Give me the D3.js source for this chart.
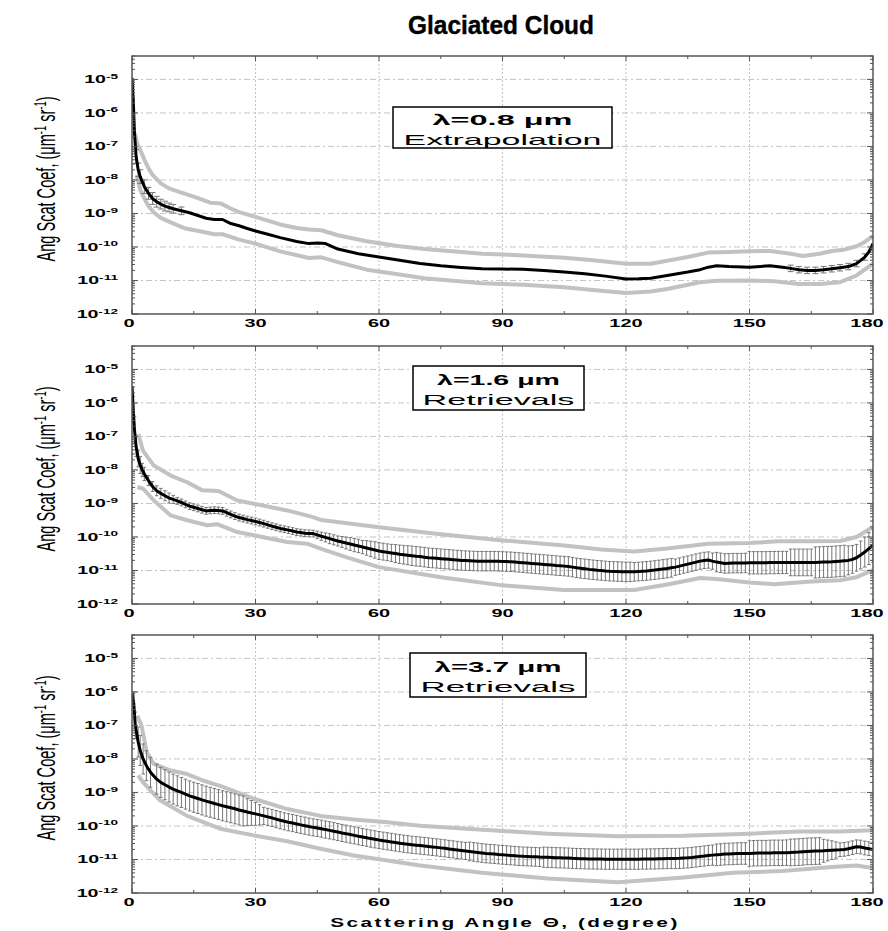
<!DOCTYPE html>
<html><head><meta charset="utf-8">
<script src="https://cdn.jsdelivr.net/npm/d3@7"></script>
<style>body{margin:0;background:#fff}svg{display:block}</style>
</head><body><svg id="c" width="888" height="931"></svg>
<script>
// ---------------- DATA ----------------
const chartTitle = "Glaciated Cloud";
const xTicks = [0, 30, 60, 90, 120, 150, 180];
const xMinorTicks = [15, 45, 75, 105, 135, 165];
const yDecades = [-12, -11, -10, -9, -8, -7, -6, -5];
const yLabelParts = ["Ang Scat Coef, (\u03bcm", "-1", " sr", "-1", ")"];
const xLabel = "Scattering Angle \u0398, (degree)";
const legendLine1 = ["\u03bb=0.8 \u03bcm", "\u03bb=1.6 \u03bcm", "\u03bb=3.7 \u03bcm"];
const legendLine2 = ["Extrapolation", "Retrievals", "Retrievals"];

// Panel 1 (0.8 um)
const p1Angle = [0,0.3,0.6,1,1.5,2,3,4,5,6,7,8,9,10,12,14,16,18,20,22,24,26,28,30,33,36,40,43,45,47,50,55,60,65,70,75,80,85,90,95,100,105,110,115,120,123,126,130,135,138,140,142,145,150,155,158,160,162,164,166,168,170,172,174,176,178,179,180];
const p1Mean = [1.12e-5,2.51e-6,2.51e-7,5.0e-8,2.0e-8,1.26e-8,6.3e-9,4.0e-9,2.8e-9,2.24e-9,1.9e-9,1.66e-9,1.51e-9,1.38e-9,1.2e-9,1.05e-9,8.7e-10,7.2e-10,6.6e-10,6.6e-10,5.0e-10,4.3e-10,3.55e-10,3.0e-10,2.4e-10,1.9e-10,1.45e-10,1.26e-10,1.32e-10,1.26e-10,8.7e-11,6.3e-11,5.0e-11,4.0e-11,3.2e-11,2.75e-11,2.45e-11,2.24e-11,2.2e-11,2.15e-11,2.0e-11,1.78e-11,1.58e-11,1.35e-11,1.1e-11,1.12e-11,1.17e-11,1.41e-11,1.78e-11,2.1e-11,2.5e-11,2.75e-11,2.6e-11,2.5e-11,2.75e-11,2.5e-11,2.3e-11,2.1e-11,2.0e-11,2.0e-11,2.1e-11,2.24e-11,2.4e-11,2.6e-11,3.2e-11,5.0e-11,7.1e-11,1.26e-10];
const p1ErrAngle = [1,1.5,2,3,4,5,6,7,8,9,10,12,160,162,164,166,168,170,172,174,176,178];
const p1ErrFactor = [1.6,1.6,1.6,1.6,1.5,1.5,1.45,1.4,1.4,1.35,1.35,1.3,1.25,1.25,1.25,1.25,1.25,1.25,1.25,1.25,1.25,1.25];
const p1UpAngle = [0.7,1.2,2,3,4,5,7,9,12,15,19,21.5,24,26,30,36,40,43,46,50,57,65,71,80,85,95,105,112,120,126,130,135,140,145,150,155,160,163,167,170,173,176,178,180];
const p1Up = [2.5e-7,1.26e-7,7.9e-8,4.0e-8,2.24e-8,1.41e-8,7.9e-9,5.6e-9,4.2e-9,3.16e-9,2.1e-9,2.0e-9,1.41e-9,1.1e-9,7.9e-10,4.7e-10,3.7e-10,3.3e-10,3.16e-10,2.24e-10,1.48e-10,1.05e-10,8.7e-11,7.1e-11,6.3e-11,5.6e-11,4.8e-11,4.0e-11,3.16e-11,3.16e-11,3.9e-11,5.0e-11,6.8e-11,7.1e-11,7.4e-11,7.6e-11,6.3e-11,5.4e-11,6.3e-11,7.6e-11,8.3e-11,1.05e-10,1.41e-10,2.14e-10];
const p1LoAngle = [1.2,2,3,4,5.3,7,9.4,13,16.5,20,22,26,30,36,43,46,50,57,65,71,85,95,105,112,120,126,130,138,142,150,156,162,167,172,176,180];
const p1Lo = [1.41e-8,5.0e-9,2.8e-9,1.66e-9,1.07e-9,7.4e-10,5.4e-10,3.55e-10,2.95e-10,2.4e-10,2.4e-10,1.66e-10,1.26e-10,7.4e-11,4.7e-11,4.9e-11,3.55e-11,2.1e-11,1.51e-11,1.17e-11,8.3e-12,7.4e-12,6.3e-12,5.2e-12,4.2e-12,4.7e-12,5.6e-12,8.9e-12,9.8e-12,1.0e-11,9.5e-12,7.9e-12,7.9e-12,8.9e-12,1.41e-11,3.16e-11];

// Panel 2 (1.6 um)
const p2Angle = [0,0.3,0.6,1,1.5,2,2.5,3,4,5,6,7,8,9,
 10,11,12,13,14,15,16,17,18,19, 20,21,22,23,24,25,26,27,28,29, 30,31,32,33,34,35,36,37,38,39,
 40,41,42,43,44,45,46,47,48,49, 50,51,52,53,54,55,56,57,58,59, 60,61,62,63,64,65,66,67,68,69,
 70,71,72,73,74,75,76,77,78,79, 80,81,82,83,84,85,86,87,88,89, 90,91,92,93,94,95,96,97,98,99,
 100,101,102,103,104,105,106,107,108,109, 110,111,112,113,114,115,116,117,118,119,
 120,121,122,123,124,125,126,127,128,129, 130,131,132,133,134,135,136,137,138,139,
 140,141,142,143,144,145,146,147,148,149, 150,151,152,153,154,155,156,157,158,159,
 160,161,162,163,164,165,166,167,168,169, 170,171,172,173,174,175,176,177,178,179, 180];
const p2Mean = [3.2e-6,6.3e-7,1.6e-7,5.0e-8,2.2e-8,1.4e-8,1.0e-8,7.6e-9,4.8e-9,3.2e-9,2.4e-9,2.0e-9,1.7e-9,1.45e-9,
 1.32e-9,1.19e-9,1.07e-9,9.4e-10,8.3e-10,7.7e-10,7.1e-10,6.5e-10,6.0e-10,6.2e-10,
 6.3e-10,6.2e-10,6.0e-10,5.3e-10,4.7e-10,4.2e-10,3.8e-10,3.55e-10,3.3e-10,3.1e-10,
 2.9e-10,2.7e-10,2.5e-10,2.3e-10,2.1e-10,1.95e-10,1.8e-10,1.7e-10,1.6e-10,1.5e-10,
 1.4e-10,1.35e-10,1.3e-10,1.28e-10,1.26e-10,1.15e-10,1.05e-10,9.7e-11,8.9e-11,8.2e-11,
 7.6e-11,7.1e-11,6.6e-11,6.2e-11,5.75e-11,5.4e-11,5.0e-11,4.7e-11,4.4e-11,4.1e-11,
 3.8e-11,3.65e-11,3.5e-11,3.35e-11,3.2e-11,3.05e-11,2.95e-11,2.85e-11,2.75e-11,2.65e-11,
 2.6e-11,2.5e-11,2.4e-11,2.35e-11,2.3e-11,2.25e-11,2.2e-11,2.15e-11,2.1e-11,2.05e-11,
 2.0e-11,1.97e-11,1.95e-11,1.92e-11,1.9e-11,1.9e-11,1.9e-11,1.9e-11,1.9e-11,1.88e-11,
 1.86e-11,1.84e-11,1.82e-11,1.78e-11,1.74e-11,1.7e-11,1.66e-11,1.62e-11,1.58e-11,1.55e-11,
 1.51e-11,1.48e-11,1.45e-11,1.41e-11,1.38e-11,1.35e-11,1.32e-11,1.26e-11,1.2e-11,1.16e-11,
 1.12e-11,1.08e-11,1.05e-11,1.02e-11,1.0e-11,9.7e-12,9.5e-12,9.4e-12,9.3e-12,9.2e-12,
 9.1e-12,9.1e-12,9.1e-12,9.3e-12,9.5e-12,9.7e-12,1.0e-11,1.03e-11,1.07e-11,1.11e-11,
 1.15e-11,1.2e-11,1.26e-11,1.35e-11,1.45e-11,1.55e-11,1.66e-11,1.78e-11,1.9e-11,2.0e-11,
 2.05e-11,1.9e-11,1.78e-11,1.7e-11,1.62e-11,1.64e-11,1.66e-11,1.66e-11,1.66e-11,1.68e-11,
 1.7e-11,1.7e-11,1.7e-11,1.7e-11,1.7e-11,1.72e-11,1.72e-11,1.73e-11,1.74e-11,1.74e-11,
 1.74e-11,1.74e-11,1.74e-11,1.74e-11,1.74e-11,1.74e-11,1.74e-11,1.76e-11,1.78e-11,1.8e-11,
 1.82e-11,1.86e-11,1.9e-11,1.95e-11,2.0e-11,2.15e-11,2.4e-11,2.9e-11,3.55e-11,4.5e-11,
 5.6e-11];
// error-bar factor (bar spans mean/f .. mean*f), one per angle after the first
const p2ErrFactor = [2.5,2.5,2.0,1.78,1.78,1.58,1.58,1.41,1.41,1.41,1.41,1.41,1.41,
 1.32,1.26,1.26,1.26,1.26,1.26,1.26,1.26,1.26,1.26,
 1.26,1.26,1.26,1.26,1.26,1.26,1.26,1.26,1.26,1.26,
 1.26,1.26,1.26,1.26,1.26,1.26,1.26,1.26,1.26,1.26,
 1.26,1.26,1.26,1.26,1.26,1.3,1.32,1.36,1.41,1.41,
 1.41,1.45,1.5,1.55,1.58,1.58,1.58,1.65,1.7,1.75,
 1.78,1.78,1.78,1.8,1.85,1.88,1.9,1.92,1.95,1.95,
 1.95,1.95,1.95,1.95,1.95,1.95,1.95,1.95,1.95,1.95,
 1.95,1.95,1.95,1.95,1.95,1.95,1.95,1.95,1.95,1.95,
 1.95,1.95,1.95,1.95,1.95,1.95,1.95,1.95,1.95,1.95,
 1.95,1.95,1.95,1.95,1.95,1.95,1.95,1.95,1.95,1.95,
 1.95,1.95,1.95,1.95,1.95,1.95,1.95,1.95,1.95,1.95,
 1.95,1.95,1.9,1.9,1.9,1.9,1.9,1.9,1.9,1.9,
 1.9,1.9,1.75,1.75,1.75,1.75,1.75,1.75,1.75,1.75,
 1.75,1.75,1.95,1.95,1.95,1.95,1.95,1.95,1.95,1.95,
 2.15,2.15,2.15,2.15,2.15,2.15,2.15,2.15,2.15,2.15,
 2.5,2.5,2.5,2.5,2.5,2.5,2.9,2.9,2.9,2.9,
 2.9,2.9,2.9,2.9,2.7,2.6,2.5,2.6,2.8,3.0,
 3.2];
const p2UpAngle = [1.5,2.7,5.3,9.4,13.4,17,21,25.6,29.6,37.7,44,46,60,75,90,105,114,122,130,140,150,157,165,172,176,180];
const p2Up = [1.17e-7,3.7e-8,1.35e-8,6.8e-9,4.3e-9,2.5e-9,2.35e-9,1.23e-9,9.8e-10,6.2e-10,3.9e-10,3.2e-10,1.95e-10,1.2e-10,7.9e-11,5.6e-11,4.2e-11,3.7e-11,4.5e-11,6.3e-11,6.6e-11,7.4e-11,7.4e-11,7.6e-11,1.0e-10,2.0e-10];
const p2LoAngle = [1.3,2.7,5.3,9.4,13.4,18.3,20.7,25.6,29.6,37.7,42.5,45.8,52,60,75,90,105,114,122,130,138,142,150,156,165,172,176,180];
const p2Lo = [3.1e-9,2.75e-9,1.23e-9,4.4e-10,3.16e-10,2.24e-10,2.4e-10,1.4e-10,1.12e-10,7.1e-11,6.3e-11,4.5e-11,2.5e-11,1.26e-11,6.3e-12,3.6e-12,2.6e-12,2.6e-12,2.6e-12,3.8e-12,6.0e-12,5.6e-12,4.4e-12,3.9e-12,4.7e-12,5.1e-12,6.3e-12,1.02e-11];

// Panel 3 (3.7 um)
const p3Angle = [0,0.4,0.8,1.5,2,2.7,3.5,4.5,6,7,8,9,
 10,11,12,13,14,15,16,17,18,19, 20,21,22,23,24,25,26,27,28,29, 30,31,32,33,34,35,36,37,38,39,
 40,41,42,43,44,45,46,47,48,49, 50,51,52,53,54,55,56,57,58,59, 60,61,62,63,64,65,66,67,68,69,
 70,71,72,73,74,75,76,77,78,79, 80,81,82,83,84,85,86,87,88,89, 90,91,92,93,94,95,96,97,98,99,
 100,101,102,103,104,105,106,107,108,109, 110,111,112,113,114,115,116,117,118,119,
 120,121,122,123,124,125,126,127,128,129, 130,131,132,133,134,135,136,137,138,139,
 140,141,142,143,144,145,146,147,148,149, 150,151,152,153,154,155,156,157,158,159,
 160,161,162,163,164,165,166,167,168,169, 170,171,172,173,174,175,176,177,178,179, 180];
const p3Mean = [8.9e-7,5.0e-7,1.0e-7,3.2e-8,1.8e-8,1.0e-8,6.3e-9,4.0e-9,2.5e-9,2.0e-9,1.7e-9,1.45e-9,
 1.26e-9,1.12e-9,1.0e-9,8.9e-10,7.9e-10,7.2e-10,6.6e-10,6.0e-10,5.5e-10,5.1e-10,
 4.7e-10,4.35e-10,4.0e-10,3.75e-10,3.5e-10,3.25e-10,3.0e-10,2.8e-10,2.6e-10,2.45e-10,
 2.3e-10,2.15e-10,2.0e-10,1.87e-10,1.74e-10,1.6e-10,1.48e-10,1.38e-10,1.29e-10,1.22e-10,
 1.15e-10,1.08e-10,1.02e-10,9.6e-11,9.1e-11,8.7e-11,8.3e-11,7.8e-11,7.4e-11,7.0e-11,
 6.6e-11,6.2e-11,5.9e-11,5.55e-11,5.25e-11,4.95e-11,4.7e-11,4.45e-11,4.2e-11,4.0e-11,
 3.8e-11,3.65e-11,3.5e-11,3.35e-11,3.2e-11,3.07e-11,2.95e-11,2.85e-11,2.75e-11,2.67e-11,
 2.6e-11,2.52e-11,2.45e-11,2.37e-11,2.3e-11,2.22e-11,2.15e-11,2.07e-11,2.0e-11,1.93e-11,
 1.86e-11,1.8e-11,1.74e-11,1.68e-11,1.62e-11,1.56e-11,1.51e-11,1.48e-11,1.45e-11,1.41e-11,
 1.38e-11,1.35e-11,1.32e-11,1.29e-11,1.26e-11,1.24e-11,1.23e-11,1.21e-11,1.2e-11,1.18e-11,
 1.17e-11,1.16e-11,1.15e-11,1.13e-11,1.12e-11,1.11e-11,1.1e-11,1.08e-11,1.07e-11,1.06e-11,
 1.05e-11,1.04e-11,1.04e-11,1.03e-11,1.03e-11,1.02e-11,1.02e-11,1.02e-11,1.02e-11,1.02e-11,
 1.02e-11,1.02e-11,1.02e-11,1.02e-11,1.03e-11,1.03e-11,1.04e-11,1.04e-11,1.05e-11,1.06e-11,
 1.07e-11,1.07e-11,1.07e-11,1.08e-11,1.1e-11,1.12e-11,1.15e-11,1.19e-11,1.23e-11,1.27e-11,
 1.32e-11,1.35e-11,1.38e-11,1.41e-11,1.45e-11,1.46e-11,1.48e-11,1.5e-11,1.51e-11,1.51e-11,
 1.51e-11,1.53e-11,1.55e-11,1.55e-11,1.55e-11,1.57e-11,1.58e-11,1.58e-11,1.58e-11,1.6e-11,
 1.62e-11,1.64e-11,1.66e-11,1.7e-11,1.74e-11,1.76e-11,1.78e-11,1.8e-11,1.82e-11,1.86e-11,
 1.9e-11,1.92e-11,1.95e-11,2.0e-11,2.1e-11,2.25e-11,2.4e-11,2.35e-11,2.2e-11,2.1e-11,
 2.0e-11];
const p3ErrFactor = [2.0,2.5,2.8,2.8,2.8,2.8,2.8,2.8,2.8,2.8,2.8,
 2.8,2.8,2.8,2.8,2.8,2.8,2.8,2.8,2.8,2.8,
 2.8,2.8,2.8,2.8,2.8,2.8,2.8,2.8,2.5,2.35,
 2.2,2.0,1.8,1.8,1.8,1.8,1.8,1.8,1.8,1.8,
 1.8,1.8,1.8,1.8,1.8,1.8,1.8,1.8,1.8,1.8,
 1.8,1.8,1.8,1.8,1.8,1.8,1.8,1.8,1.8,1.8,
 1.8,1.8,1.8,1.8,1.8,1.8,1.8,1.8,1.8,1.8,
 1.8,1.8,1.8,1.8,1.8,1.8,1.8,1.8,1.8,1.8,
 1.8,1.8,1.9,1.9,1.9,1.9,1.9,1.9,1.9,1.9,
 1.9,1.9,1.9,1.9,1.9,1.9,1.9,1.9,1.9,1.9,
 2.0,2.0,2.0,2.0,2.0,2.0,2.0,2.0,2.0,2.0,
 2.0,2.0,2.0,2.0,2.0,2.0,2.0,2.0,2.0,2.0,
 2.0,2.0,2.0,2.0,2.0,2.0,2.0,2.0,2.0,2.0,
 2.0,2.0,2.0,2.0,2.0,2.0,2.0,2.0,2.0,2.0,
 2.0,2.0,2.1,2.1,2.1,2.1,2.1,2.1,2.1,2.1,
 2.4,2.4,2.4,2.4,2.4,2.4,2.4,2.4,2.4,2.4,
 2.5,2.5,2.5,2.5,2.5,2.5,2.5,2.5,2.2,2.05,
 1.9,1.75,1.6,1.6,1.6,1.6,1.6,1.6,1.6,1.6,
 1.6];
const p3UpAngle = [1.3,2.3,3.6,5.3,9.4,13.4,17.4,21.4,29.6,37.7,45.8,53.9,62,70,90,101,118,134,150,162,172,180];
const p3Up = [1.95e-7,1.0e-7,1.58e-8,7.1e-9,4.5e-9,3.55e-9,2.24e-9,1.58e-9,6.5e-10,3.2e-10,2.0e-10,1.55e-10,1.29e-10,1.02e-10,7.1e-11,5.9e-11,4.9e-11,5.1e-11,5.9e-11,6.9e-11,6.9e-11,7.4e-11];
const p3LoAngle = [1.5,2.7,4.5,6.9,13.4,21.4,29.6,37.7,45.8,53.9,62,70,85,101,118,134,146,158,170,176,180];
const p3Lo = [3.2e-9,2.0e-9,1.15e-9,5.75e-10,2.0e-10,8.3e-11,5.25e-11,3.5e-11,2.1e-11,1.32e-11,9.3e-12,6.6e-12,4.0e-12,2.7e-12,2.1e-12,2.9e-12,4.0e-12,4.5e-12,6.0e-12,6.6e-12,5.6e-12];

// --------------- LAYOUT ---------------
const FONT = '"Liberation Sans", Arial, Helvetica, sans-serif';
const X0 = 132, X1 = 873, PH = 258;
const panels = [
  {top: 56,  angle: p1Angle, mean: p1Mean, errAngle: p1ErrAngle, errFactor: p1ErrFactor, cap: 3,
   upA: p1UpAngle, up: p1Up, loA: p1LoAngle, lo: p1Lo,
   box: {x: 393, y: 107, w: 219, h: 41, b1: 125, w1: 140, b2: 145, w2: 198}},
  {top: 346, angle: p2Angle, mean: p2Mean, errAngle: p2Angle.slice(1), errFactor: p2ErrFactor, cap: 1.8,
   upA: p2UpAngle, up: p2Up, loA: p2LoAngle, lo: p2Lo,
   box: {x: 413, y: 366, w: 171, h: 44, b1: 385, w1: 123, b2: 405, w2: 152}},
  {top: 635, angle: p3Angle, mean: p3Mean, errAngle: p3Angle.slice(1), errFactor: p3ErrFactor, cap: 1.8,
   upA: p3UpAngle, up: p3Up, loA: p3LoAngle, lo: p3Lo,
   box: {x: 410, y: 653, w: 176, h: 44, b1: 672, w1: 127, b2: 692, w2: 155}}
];

const svg = d3.select("#c");
svg.append("rect").attr("width", 888).attr("height", 931).attr("fill", "#fff");
const x = d3.scaleLinear().domain([0, 180]).range([X0, X1]);

// text helper: draw then stretch horizontally (scale given, or fitted to a width)
function stretchText(parent, px, py, anchor, build, opt) {
  const g = parent.append("g").attr("transform", `translate(${px},${py})`);
  const t = g.append("text").attr("text-anchor", anchor).attr("font-family", FONT).attr("fill", "#000");
  build(t);
  let s = opt.scale;
  if (opt.width) s = opt.width / t.node().getBBox().width;
  t.attr("transform", `scale(${s},1)`);
  return t;
}

// Title
stretchText(svg, 501, 34, "middle", t => t.attr("font-size", 25).attr("font-weight", "bold").attr("stroke", "#000").attr("stroke-width", 0.4).text(chartTitle), {width: 186});

panels.forEach((p, i) => {
  const top = p.top, bottom = top + PH;
  const y = d3.scaleLog().domain([1e-12, 5e-5]).range([bottom, top]);
  const g = svg.append("g");
  const clipId = "clip" + i;
  svg.append("clipPath").attr("id", clipId).append("rect")
    .attr("x", X0).attr("y", top).attr("width", X1 - X0).attr("height", PH);

  // grid
  yDecades.filter(d => d > -12).forEach(d => {
    g.append("line").attr("x1", X0).attr("x2", X1).attr("y1", y(Math.pow(10, d))).attr("y2", y(Math.pow(10, d)))
      .attr("stroke", "#c4c4c4").attr("stroke-width", 1).attr("stroke-dasharray", "6,3,2,3");
  });
  xTicks.filter(v => v > 0 && v < 180).forEach(v => {
    g.append("line").attr("x1", x(v)).attr("x2", x(v)).attr("y1", top).attr("y2", bottom)
      .attr("stroke", "#c4c4c4").attr("stroke-width", 1).attr("stroke-dasharray", "2,2");
  });

  const plot = g.append("g").attr("clip-path", `url(#${clipId})`);
  const line = d3.line().x(d => x(d[0])).y(d => y(d[1]));

  // gray envelope lines
  plot.append("path").datum(d3.zip(p.upA, p.up)).attr("d", line)
    .attr("fill", "none").attr("stroke", "#c2c2c2").attr("stroke-width", 4).attr("stroke-linejoin", "round");
  plot.append("path").datum(d3.zip(p.loA, p.lo)).attr("d", line)
    .attr("fill", "none").attr("stroke", "#c2c2c2").attr("stroke-width", 4).attr("stroke-linejoin", "round");

  // error bars
  const eb = plot.append("g").attr("stroke", "#777").attr("stroke-width", 1).attr("fill", "none");
  p.errAngle.forEach((a, k) => {
    const idx = p.angle.indexOf(a);
    if (idx < 0) return;
    const m = p.mean[idx], f = p.errFactor[k];
    const xx = x(a), y1 = y(m / f), y2 = y(m * f);
    eb.append("line").attr("x1", xx).attr("x2", xx).attr("y1", y1).attr("y2", y2);
    eb.append("line").attr("x1", xx - p.cap).attr("x2", xx + p.cap).attr("y1", y1).attr("y2", y1);
    eb.append("line").attr("x1", xx - p.cap).attr("x2", xx + p.cap).attr("y1", y2).attr("y2", y2);
  });

  // mean line
  plot.append("path").datum(d3.zip(p.angle, p.mean)).attr("d", line)
    .attr("fill", "none").attr("stroke", "#000").attr("stroke-width", 3).attr("stroke-linejoin", "round");

  // frame
  g.append("rect").attr("x", X0).attr("y", top).attr("width", X1 - X0).attr("height", PH)
    .attr("fill", "none").attr("stroke", "#555").attr("stroke-width", 1.5);

  // y ticks (major + minor, both sides, inward)
  const tk = g.append("g").attr("stroke", "#555").attr("stroke-width", 1);
  yDecades.forEach(d => {
    for (let k = 1; k <= 9; k++) {
      const v = k * Math.pow(10, d);
      if (v > 5e-5) break;
      const len = k === 1 ? 6 : 3;
      const yy = y(v);
      tk.append("line").attr("x1", X0).attr("x2", X0 + len).attr("y1", yy).attr("y2", yy);
      tk.append("line").attr("x1", X1).attr("x2", X1 - len).attr("y1", yy).attr("y2", yy);
    }
  });
  xTicks.concat(xMinorTicks).forEach(v => {
    const len = xTicks.includes(v) ? 5 : 3;
    tk.append("line").attr("x1", x(v)).attr("x2", x(v)).attr("y1", bottom).attr("y2", bottom - len);
    tk.append("line").attr("x1", x(v)).attr("x2", x(v)).attr("y1", top).attr("y2", top + len);
  });

  // y tick labels
  yDecades.forEach(d => {
    stretchText(g, 118, y(Math.pow(10, d)) + 4, "end", t => {
      t.attr("font-weight", "bold");
      t.append("tspan").attr("font-size", 11.5).text("10");
      t.append("tspan").attr("font-size", 8).attr("dy", -4.5).text(String(d));
    }, {scale: 1.7});
  });

  // x tick labels (end labels nudged inward so they stay on the page)
  xTicks.forEach(v => {
    const lx = v === 0 ? x(v) - 3 : (v === 180 ? x(v) - 6 : x(v));
    stretchText(g, lx, bottom + 13, "middle", t => t.attr("font-size", 10.5).attr("font-weight", "bold").text(String(v)), {scale: 1.9});
  });

  // y axis label (rotated, thickened)
  const yl = g.append("g").attr("transform", `translate(55,${(top + bottom) / 2 - 6}) scale(1.8,1) rotate(-90)`);
  const ylt = yl.append("text").attr("text-anchor", "middle").attr("font-family", FONT).attr("font-size", 14);
  ylt.append("tspan").text(yLabelParts[0]);
  ylt.append("tspan").attr("font-size", 9).attr("dy", -5).text(yLabelParts[1]);
  ylt.append("tspan").attr("dy", 5).text(yLabelParts[2]);
  ylt.append("tspan").attr("font-size", 9).attr("dy", -5).text(yLabelParts[3]);
  ylt.append("tspan").attr("dy", 5).text(yLabelParts[4]);
  const lw = ylt.node().getBBox().width;
  ylt.attr("transform", `scale(${165 / lw},1)`);

  // legend box
  const b = p.box;
  g.append("rect").attr("x", b.x).attr("y", b.y).attr("width", b.w).attr("height", b.h)
    .attr("fill", "#fff").attr("stroke", "#000").attr("stroke-width", 1.5);
  const cx = b.x + b.w / 2;
  stretchText(g, cx, b.b1, "middle", t => t.attr("font-size", 15).attr("font-weight", "bold").text(legendLine1[i]), {width: b.w1});
  stretchText(g, cx, b.b2, "middle", t => t.attr("font-size", 15).text(legendLine2[i]), {width: b.w2});
});

// x axis label
stretchText(svg, 505, 927, "middle", t => t.attr("font-size", 12.5).attr("font-weight", "bold").attr("letter-spacing", 1.5).text(xLabel), {width: 350});
</script>
</body></html>
